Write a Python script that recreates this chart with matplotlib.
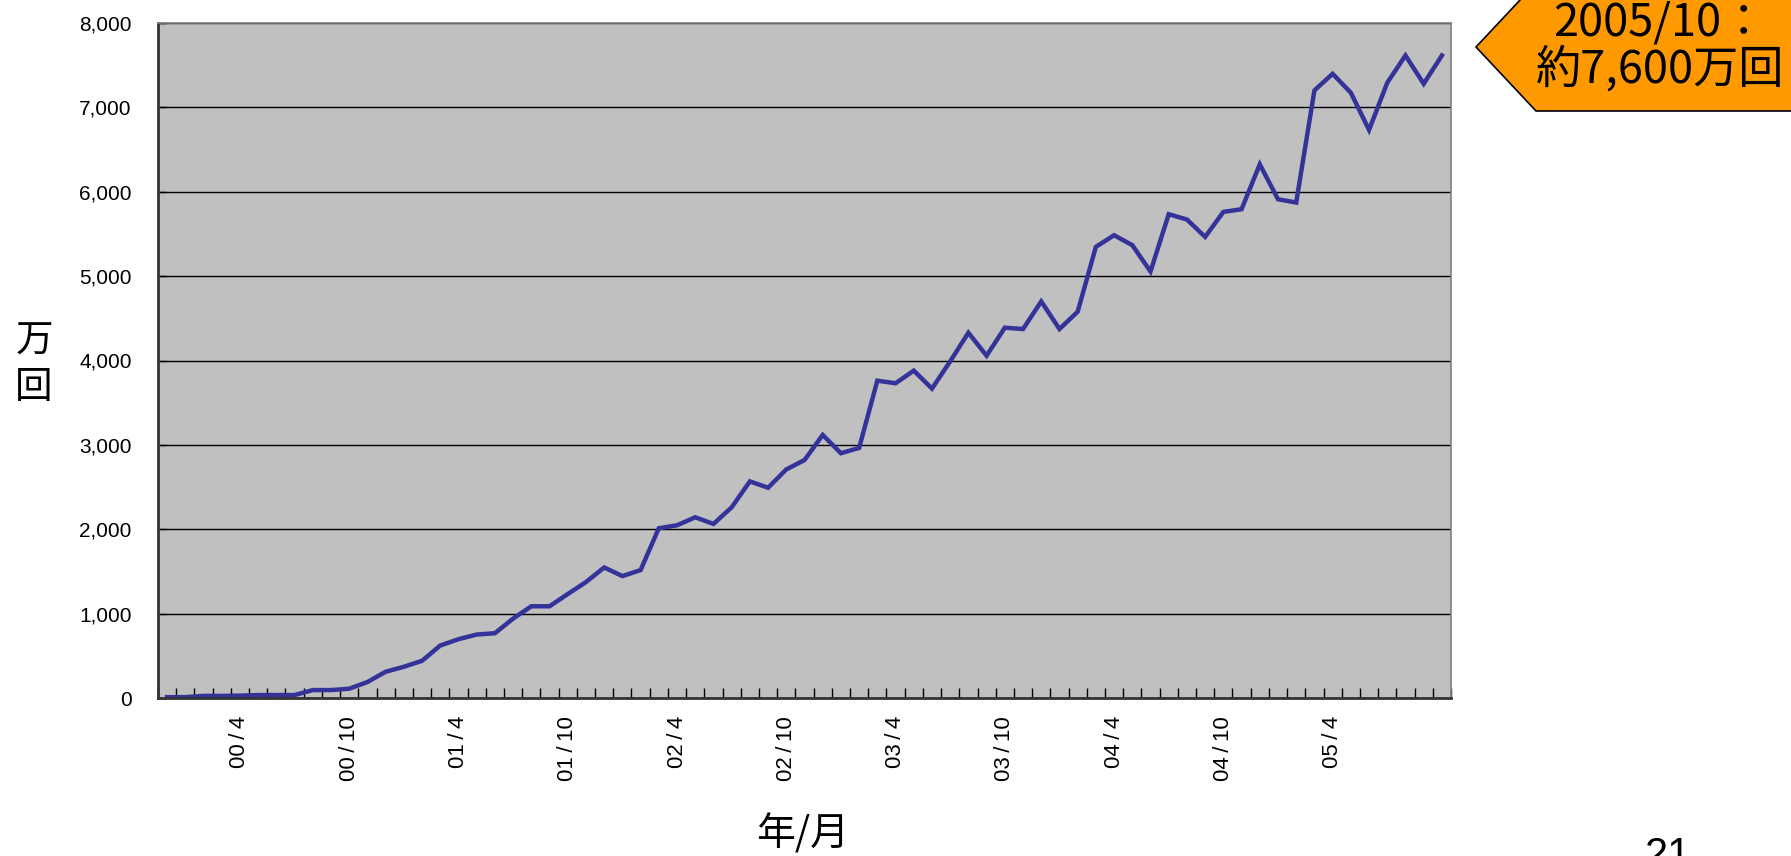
import matplotlib
matplotlib.use('Agg')
import matplotlib.pyplot as plt
from matplotlib.patches import Polygon
import numpy as np

# monthly totals (unit: 10,000 times), 1999/12 .. 2005/10
startYear, startMonth = 1999, 12
counts = [10, 10, 25, 25, 28, 35, 35, 35, 94, 94,
          110, 189, 311, 370, 441, 622, 697, 752, 768, 941,
          1087, 1087, 1232, 1374, 1547, 1445, 1516, 2012, 2047, 2142,
          2063, 2260, 2567, 2492, 2709, 2820, 3118, 2901, 2964, 3761,
          3730, 3880, 3667, 3990, 4329, 4057, 4389, 4373, 4700, 4373,
          4578, 5347, 5485, 5367, 5055, 5734, 5671, 5465, 5761, 5793,
          6325, 5911, 5872, 7201, 7398, 7174, 6732, 7292, 7615, 7280,
          7615]
labelMonths = [4, 10]           # months that get a tick label
yTicks = [0, 1000, 2000, 3000, 4000, 5000, 6000, 7000, 8000]
calloutText = '2005/10：\n約7,600万回'

lineColor = '#333399'
bgColor = '#c0c0c0'
orange = '#ff9900'
jpFont = ['Noto Sans CJK JP', 'DejaVu Sans']
numFont = ['Liberation Sans Narrow', 'Liberation Sans', 'DejaVu Sans']

W, H = 1791, 856
fig = plt.figure(figsize=(W/100, H/100), dpi=100)
ax = fig.add_axes([158/W, 1-698/H, (1451-158)/W, (698-23)/H])

# category labels "yy/m"
months = []
y, m = startYear, startMonth
for _ in counts:
    months.append('%02d/%d' % (y % 100, m))
    m += 1
    if m > 12:
        y, m = y + 1, 1
xs = np.arange(len(counts))

ax.set_facecolor(bgColor)
ax.plot(xs, counts, color=lineColor, lw=3.2, solid_joinstyle='miter')
ax.set_xlim(-0.5, len(counts) - 0.5)
ax.set_ylim(0, 8000)

# gridlines + y axis
ax.set_yticks(yTicks)
ax.set_yticklabels(['{:,}'.format(v) for v in yTicks], family=numFont, fontsize=15)
ax.yaxis.grid(True, color='black', lw=1.0)
ax.set_axisbelow(True)
ax.tick_params(axis='y', direction='in', length=6, width=1, pad=19)

# x axis: small ticks between months, labels on april / october (last month unlabelled)
ax.set_xticks(np.arange(-0.5, len(counts), 1.0))
ax.set_xticklabels([])
ax.tick_params(axis='x', which='major', direction='in', length=7, width=1)
labIdx = [i for i, s in enumerate(months)
          if int(s.split('/')[1]) in labelMonths and 0 < i < len(counts) - 1]
ax.set_xticks(labIdx, minor=True)
ax.set_xticklabels([months[i].replace('/', '\u2009/\u2009') for i in labIdx], minor=True,
                   rotation=90, family=['Liberation Sans', 'DejaVu Sans'], fontsize=16)
ax.tick_params(axis='x', which='minor', length=0, pad=13)

for s in ['left', 'bottom']:
    ax.spines[s].set_color('#333333')
    ax.spines[s].set_linewidth(2)
for s in ['top', 'right']:
    ax.spines[s].set_color('#808080')
    ax.spines[s].set_linewidth(1.2)

# axis titles
fig.text(34/W, 1-364/H, '万\n回', family=jpFont, fontsize=27, ha='center', va='center',
         linespacing=1.25)
fig.text(803/W, 1-834/H, '年/月', family=jpFont, fontsize=28, ha='center', va='center')
fig.text(1668/W, 1-836/H, '21', family=['Liberation Sans', 'DejaVu Sans'], fontsize=30,
         ha='center', va='top')

# orange callout arrow at top right
pts = [(1476, 47), (1536, -17), (1800, -17), (1800, 111), (1536, 111)]
fig.patches.append(Polygon([(px/W, 1-py/H) for px, py in pts], closed=True,
                           transform=fig.transFigure, facecolor=orange,
                           edgecolor='black', lw=1.2))
fig.text(1660/W, 1-46/H, calloutText, family=jpFont, fontsize=32.5, ha='center', va='center',
         linespacing=1.02)

fig.savefig('out.png', dpi=100)
